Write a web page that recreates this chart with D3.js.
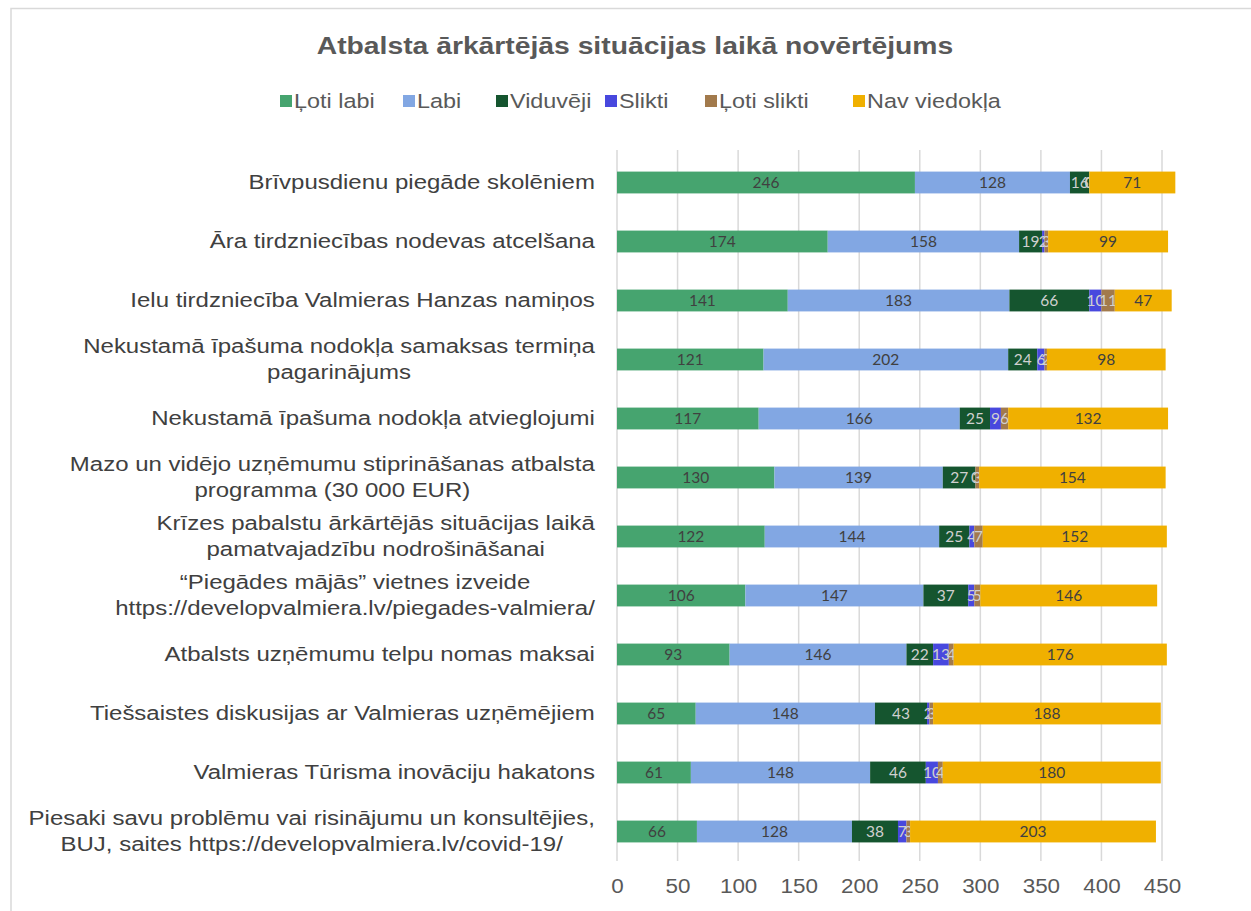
<!DOCTYPE html>
<html>
<head>
<meta charset="utf-8">
<script src="https://cdn.jsdelivr.net/npm/d3@7"></script>
<style>
  body { margin: 0; background: #fff; }
  svg { display: block; }
</style>
</head>
<body>
<svg width="1251" height="911"></svg>
<script>
const categories = [
  "Brīvpusdienu piegāde skolēniem",
  "Āra tirdzniecības nodevas atcelšana",
  "Ielu tirdzniecība Valmieras Hanzas namiņos",
  "Nekustamā īpašuma nodokļa samaksas termiņa\npagarinājums",
  "Nekustamā īpašuma nodokļa atvieglojumi",
  "Mazo un vidējo uzņēmumu stiprināšanas atbalsta\nprogramma (30 000 EUR)",
  "Krīzes pabalstu ārkārtējās situācijas laikā\npamatvajadzību nodrošināšanai",
  "“Piegādes mājās” vietnes izveide\nhttps://developvalmiera.lv/piegades-valmiera/",
  "Atbalsts uzņēmumu telpu nomas maksai",
  "Tiešsaistes diskusijas ar Valmieras uzņēmējiem",
  "Valmieras Tūrisma inovāciju hakatons",
  "Piesaki savu problēmu vai risinājumu un konsultējies,\nBUJ, saites https://developvalmiera.lv/covid-19/"
];

const seriesNames = ["Ļoti labi", "Labi", "Viduvēji", "Slikti", "Ļoti slikti", "Nav viedokļa"];
const seriesColors = ["#46a46f", "#82a7e3", "#15552f", "#4848de", "#a27a4c", "#f0b000"];
const labelColors = ["#404040", "#404040", "#d0d0d0", "#d0d0d0", "#d0d0d0", "#404040"];

const lotiLabi   = [246, 174, 141, 121, 117, 130, 122, 106, 93, 65, 61, 66];
const labi       = [128, 158, 183, 202, 166, 139, 144, 147, 146, 148, 148, 128];
const viduveji   = [16, 19, 66, 24, 25, 27, 25, 37, 22, 43, 46, 38];
const slikti     = [0, 2, 10, 6, 9, 0, 4, 5, 13, 2, 10, 7];
const lotiSlikti = [0, 3, 11, 2, 6, 3, 7, 5, 4, 3, 4, 3];
const navViedokla = [71, 99, 47, 98, 132, 154, 152, 146, 176, 188, 180, 203];

const xTicks = [0, 50, 100, 150, 200, 250, 300, 350, 400, 450];

const seriesValues = [lotiLabi, labi, viduveji, slikti, lotiSlikti, navViedokla];
const rows = categories.map((c, i) => {
  const r = { category: c };
  seriesNames.forEach((s, k) => r[s] = seriesValues[k][i]);
  return r;
});

const svg = d3.select("svg");
const margin = { top: 153, left: 617 };
const plotWidth = 1162 - margin.left;
const plotHeight = 861 - margin.top;
const arial = "Liberation Sans, Arial, sans-serif";
const sx = 1.23; // the reference text is drawn wider than plain Arial

// chart frame
svg.append("rect")
  .attr("x", 11).attr("y", 8.5)
  .attr("width", 1300).attr("height", 1000)
  .attr("fill", "none")
  .attr("stroke", "#d9d9d9")
  .attr("stroke-width", 1.5);

svg.append("text")
  .attr("transform", `translate(635,54) scale(${sx},1)`)
  .attr("text-anchor", "middle")
  .attr("font-family", arial)
  .attr("font-size", 23)
  .attr("font-weight", "bold")
  .attr("fill", "#595959")
  .text("Atbalsta ārkārtējās situācijas laikā novērtējums");

const xScale = d3.scaleLinear().domain([0, 450]).range([0, plotWidth]);
const yScale = d3.scaleBand().domain(categories).range([0, plotHeight]).paddingInner(0.63).paddingOuter(0.315);

const plot = svg.append("g").attr("transform", `translate(${margin.left},${margin.top})`);

// gridlines
plot.append("g")
  .selectAll("line")
  .data(xTicks)
  .join("line")
  .attr("x1", d => xScale(d)).attr("x2", d => xScale(d))
  .attr("y1", -3).attr("y2", plotHeight)
  .attr("stroke", "#d9d9d9")
  .attr("stroke-width", 1.5);

const stack = d3.stack().keys(seriesNames)(rows);

const layers = plot.selectAll(".layer")
  .data(stack)
  .join("g")
  .attr("class", "layer")
  .attr("fill", (d, i) => seriesColors[i]);

layers.selectAll("rect")
  .data(d => d)
  .join("rect")
  .attr("x", d => xScale(d[0]))
  .attr("y", d => yScale(d.data.category))
  .attr("width", d => xScale(d[1]) - xScale(d[0]))
  .attr("height", yScale.bandwidth());

layers.each(function(layer, i) {
  d3.select(this).selectAll("text")
    .data(layer)
    .join("text")
    .attr("x", d => (xScale(d[0]) + xScale(d[1])) / 2)
    .attr("y", d => yScale(d.data.category) + yScale.bandwidth() / 2)
    .attr("dy", "0.36em")
    .attr("text-anchor", "middle")
    .attr("font-family", "Lato, Carlito, Calibri, sans-serif")
    .attr("font-size", 15.5)
    .attr("fill", labelColors[i])
    .text(d => d[1] - d[0]);
});

// x axis labels
const xAxis = plot.append("g")
  .attr("transform", `translate(0,${plotHeight})`)
  .call(d3.axisBottom(xScale).tickValues(xTicks).tickSize(0).tickPadding(18));
xAxis.select(".domain").remove();
xAxis.selectAll(".tick text")
  .attr("font-family", arial)
  .attr("font-size", 19.5)
  .attr("fill", "#595959")
  .attr("transform", "scale(1.15,1)");

// category labels
const labelRight = -22;
const lh = 26;
categories.forEach(c => {
  const lines = c.split("\n");
  const cy = yScale(c) + yScale.bandwidth() / 2;
  const t = plot.append("text")
    .attr("font-family", arial)
    .attr("font-size", 19.5)
    .attr("fill", "#404040")
    .attr("text-anchor", "middle");
  lines.forEach((l, k) => {
    t.append("tspan")
      .attr("x", 0)
      .attr("y", cy + (k - (lines.length - 1) / 2) * lh)
      .attr("dy", "0.35em")
      .text(l);
  });
  let maxW = 0;
  t.selectAll("tspan").each(function() { maxW = Math.max(maxW, this.getComputedTextLength()); });
  t.attr("transform", `translate(${labelRight - maxW * sx / 2},0) scale(${sx},1)`);
});

// legend
const legendItems = [
  { x: 280, name: seriesNames[0] },
  { x: 403, name: seriesNames[1] },
  { x: 496, name: seriesNames[2] },
  { x: 605, name: seriesNames[3] },
  { x: 705, name: seriesNames[4] },
  { x: 853, name: seriesNames[5] }
];
const legend = svg.append("g");
legendItems.forEach((it, i) => {
  legend.append("rect")
    .attr("x", it.x).attr("y", 95)
    .attr("width", 12).attr("height", 12)
    .attr("fill", seriesColors[i]);
  legend.append("text")
    .attr("transform", `translate(${it.x + 14},101) scale(1.2,1)`)
    .attr("dy", "0.36em")
    .attr("font-family", arial)
    .attr("font-size", 19.5)
    .attr("fill", "#595959")
    .text(it.name);
});
</script>
</body>
</html>
